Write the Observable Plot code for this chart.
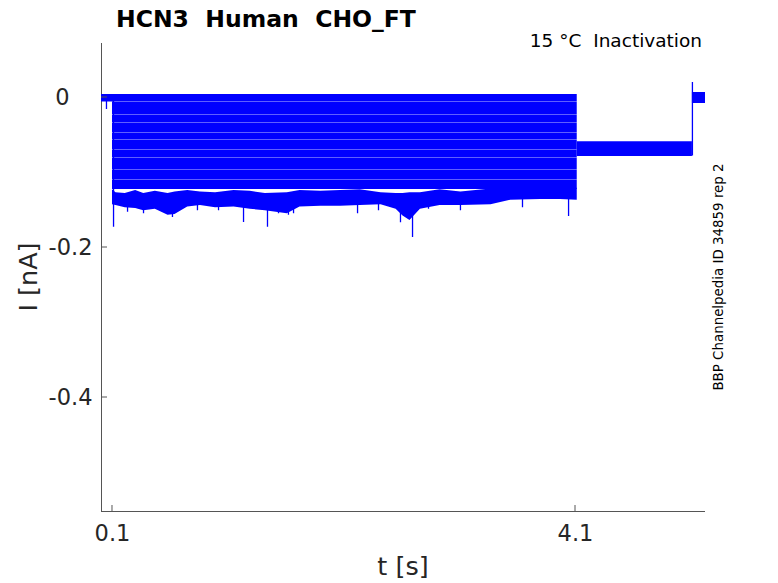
<!DOCTYPE html>
<html><head><meta charset="utf-8">
<script src="https://cdn.jsdelivr.net/npm/d3@7"></script>
<script src="https://cdn.jsdelivr.net/npm/@observablehq/plot@0.6"></script>
<style>body{margin:0;background:#fff}#chart{position:relative;width:778px;height:583px}</style>
</head><body><div id="chart"></div>
<script>
// ---- axes ----
const xDomain = [0.005, 5.223];
const yDomain = [-0.552, 0.072];
const xTicks = [0.1, 4.1];
const xTickLabels = ["0.1", "4.1"];
const yTicks = [-0.4, -0.2, 0];
const yTickLabels = ["-0.4", "-0.2", "0"];

// ---- holding segments (pre-step, post-step, final) ----
const holdStart = [0.005, 4.115, 5.11];
const holdEnd   = [0.112, 5.11, 5.223];
const holdHi    = [0.004, -0.059, 0.0067];
const holdLo    = [-0.006, -0.0787, -0.008];

// ---- step traces (0.1 s – 4.115 s), noise bands ----
const stepWindow = [0.1, 4.115];
const traceHi = [0.004, -0.0064, -0.0238, -0.0344, -0.0478, -0.0571, -0.0704, -0.0811, -0.0971, -0.1104];
const traceLo = [-0.006, -0.0233, -0.034, -0.0473, -0.0567, -0.070, -0.0807, -0.0967, -0.110, -0.1227];

// ---- lowest trace envelope ----
const bottomT  = [0.1, 0.13, 0.21, 0.3, 0.37, 0.47, 0.58, 0.64, 0.75, 0.86, 0.99, 1.15, 1.29, 1.42, 1.61, 1.72, 1.9, 2.07, 2.24, 2.42, 2.55, 2.61, 2.67, 2.76, 2.93, 3.11, 3.37, 3.54, 3.8, 3.97, 4.115];
const bottomHi = [-0.123, -0.127, -0.128, -0.124, -0.128, -0.125, -0.128, -0.126, -0.124, -0.126, -0.127, -0.124, -0.125, -0.128, -0.127, -0.124, -0.125, -0.124, -0.123, -0.127, -0.128, -0.128, -0.127, -0.127, -0.123, -0.126, -0.122, -0.121, -0.121, -0.121, -0.121];
const bottomLo = [-0.143, -0.144, -0.147, -0.148, -0.151, -0.149, -0.157, -0.156, -0.146, -0.144, -0.147, -0.146, -0.149, -0.151, -0.155, -0.146, -0.145, -0.145, -0.144, -0.143, -0.149, -0.158, -0.164, -0.149, -0.144, -0.144, -0.143, -0.137, -0.136, -0.136, -0.137];

// ---- spikes ----
const spikeT  = [0.048, 0.109, 0.23, 0.368, 0.532, 0.618, 0.834, 1.016, 1.232, 1.439, 1.534, 1.62, 1.664, 2.113, 2.217, 2.398, 2.588, 2.692, 2.83, 3.106, 3.642, 4.04, 5.11];
const spikeHi = [0.0, 0.0, -0.14, -0.14, -0.14, -0.14, -0.14, -0.14, -0.14, -0.14, -0.14, -0.14, -0.14, -0.138, -0.14, -0.14, -0.14, -0.14, -0.14, -0.14, -0.135, -0.135, 0.02];
const spikeLo = [-0.016, -0.173, -0.153, -0.155, -0.153, -0.16, -0.151, -0.151, -0.1667, -0.173, -0.155, -0.157, -0.155, -0.144, -0.155, -0.151, -0.167, -0.1867, -0.149, -0.151, -0.147, -0.1587, -0.078];

const blue = "#0000ff";
const ink = "#262626";

const holdRows = holdStart.flatMap((t0, i) => [
  {id: i, t: t0, hi: holdHi[i], lo: holdLo[i]},
  {id: i, t: holdEnd[i], hi: holdHi[i], lo: holdLo[i]}
]);
const traceRows = traceHi.flatMap((h, i) => stepWindow.map(t => ({id: i, t, hi: h, lo: traceLo[i]})));
const bottomRows = bottomT.map((t, i) => ({t, hi: bottomHi[i], lo: bottomLo[i]}));
const spikeRows = spikeT.map((t, i) => ({t, hi: spikeHi[i], lo: spikeLo[i]}));

const plot = Plot.plot({
  width: 778, height: 583,
  marginLeft: 101, marginRight: 73, marginTop: 43, marginBottom: 72,
  style: {fontFamily: "DejaVu Sans", fontSize: "22.5px", color: ink, background: "#fff"},
  x: {domain: xDomain},
  y: {domain: yDomain},
  marks: [
    Plot.ruleX([xDomain[0]], {stroke: "#555", strokeWidth: 1}),
    Plot.ruleY([yDomain[0]], {stroke: "#555", strokeWidth: 1}),
    Plot.axisX({ticks: xTicks, tickFormat: d => xTickLabels[xTicks.indexOf(d)], tickSize: 0, tickPadding: 14, label: null, fill: ink}),
    Plot.axisY({ticks: yTicks, tickFormat: d => yTickLabels[yTicks.indexOf(d)], tickSize: 0, tickPadding: 9, label: null, fill: ink}),
    Plot.areaY(holdRows, {x: "t", y1: "hi", y2: "lo", z: "id", fill: blue}),
    Plot.areaY(traceRows, {x: "t", y1: "hi", y2: "lo", z: "id", fill: blue}),
    Plot.areaY(bottomRows, {x: "t", y1: "hi", y2: "lo", fill: blue, curve: "linear"}),
    Plot.ruleX(spikeRows, {x: "t", y1: "hi", y2: "lo", stroke: blue, strokeWidth: 1.3})
  ]
});

const svg = d3.select(plot);
const xs = plot.scale("x"), ys = plot.scale("y");
const x0 = xs.apply(xDomain[0]), yb = ys.apply(yDomain[0]);
// inward ticks
xTicks.forEach(v => svg.append("line").attr("x1", xs.apply(v)).attr("x2", xs.apply(v))
  .attr("y1", yb).attr("y2", yb - 6).attr("stroke", "#555"));
yTicks.forEach(v => svg.append("line").attr("x1", x0).attr("x2", x0 + 6)
  .attr("y1", ys.apply(v)).attr("y2", ys.apply(v)).attr("stroke", "#555"));
// "0" label sits further left in the original
svg.selectAll("text").filter(function(){ return this.textContent === "0"; })
  .attr("x", function(){ return +this.getAttribute("x") - 23; });

svg.append("text").attr("x", 116).attr("y", 27).attr("text-anchor", "start")
  .attr("font-family", "DejaVu Sans").attr("font-weight", "bold").attr("font-size", 23.5)
  .attr("fill", "#000").text("HCN3  Human  CHO_FT").style("white-space", "pre");
svg.append("text").attr("x", 702).attr("y", 47).attr("text-anchor", "end")
  .attr("font-family", "DejaVu Sans").attr("font-size", 18.5)
  .attr("fill", "#000").text("15 °C  Inactivation").style("white-space", "pre");
svg.append("text").attr("x", 403).attr("y", 575).attr("text-anchor", "middle")
  .attr("font-family", "DejaVu Sans").attr("font-size", 25.5).attr("fill", ink).text("t [s]");
svg.append("text").attr("transform", "translate(37,277) rotate(-90)").attr("text-anchor", "middle")
  .attr("font-family", "DejaVu Sans").attr("font-size", 25.5).attr("fill", ink).text("I [nA]");
svg.append("text").attr("transform", "translate(723,277) rotate(-90)").attr("text-anchor", "middle")
  .attr("font-family", "DejaVu Sans").attr("font-size", 13.4).attr("fill", "#000").text("BBP Channelpedia ID 34859 rep 2");

document.getElementById("chart").appendChild(plot);
</script></body></html>
